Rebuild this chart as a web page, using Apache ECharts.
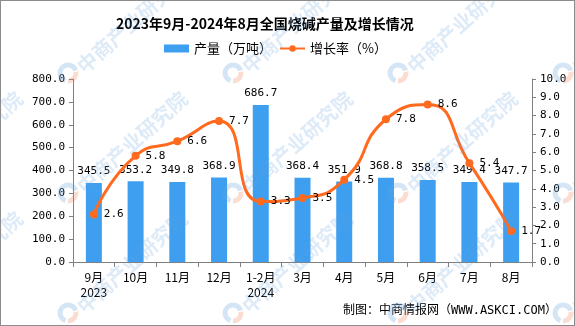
<!DOCTYPE html>
<html><head><meta charset="utf-8">
<script src="https://cdn.jsdelivr.net/npm/echarts@6/dist/echarts.min.js"></script>
<style>html,body{margin:0;padding:0;background:#fff}#c{width:575px;height:326px;box-sizing:border-box;border:1px solid #8c8c8c}</style>
</head><body><div id="c"></div>
<script>
const categories = ['9月\n2023','10月','11月','12月','1-2月\n2024','3月','4月','5月','6月','7月','8月'];
const production = [345.5,353.2,349.8,368.9,686.7,368.4,351.9,368.8,358.5,349.4,347.7];
const growth = [2.6,5.8,6.6,7.7,3.3,3.5,4.5,7.8,8.6,5.4,1.7];
const leftTicks = {min:0,max:800,interval:100};
const rightTicks = {min:0,max:10,interval:1};

const mono = 'DejaVu Sans Mono';
const cjk = 'Noto Sans CJK SC';

// decorative watermark
const wm = [];
const wmX = [-98,67,232,397,562], wmY = [72,192,312];
wmX.forEach(x => wmY.forEach(y => {
  wm.push({type:'arc',z:100,silent:true,shape:{cx:x,cy:y,r:8,startAngle:Math.PI*0.6,endAngle:Math.PI*1.9},
    style:{stroke:'rgba(100,160,220,0.28)',lineWidth:5,fill:null}});
  wm.push({type:'arc',z:100,silent:true,shape:{cx:x,cy:y,r:8,startAngle:Math.PI*1.95,endAngle:Math.PI*2.5},
    style:{stroke:'rgba(240,130,90,0.28)',lineWidth:5,fill:null}});
  wm.push({type:'text',z:100,silent:true,x:x+12,y:y-4,rotation:Math.PI/4.3,
    style:{text:'中商产业研究院',fontFamily:cjk,fontSize:20,fontWeight:'bold',fill:'rgba(100,160,220,0.22)',textAlign:'left',textVerticalAlign:'middle'}});
}));

const chart = echarts.init(document.getElementById('c'), null, {renderer:'canvas'});
chart.setOption({
  animation:false,
  backgroundColor:'#fff',
  title:{text:'2023年9月-2024年8月全国烧碱产量及增长情况',left:110,top:11,
    textStyle:{fontFamily:cjk,fontSize:14,fontWeight:'bold',color:'#000'}},
  legend:[
    {top:41,left:163,padding:0,itemWidth:25,itemHeight:8,
     textStyle:{fontFamily:cjk,fontSize:13,color:'#000'},
     data:[{name:'产量（万吨）',icon:'rect'}]},
    {top:41,left:278,padding:0,itemWidth:25,itemHeight:8,
     textStyle:{fontFamily:cjk,fontSize:13,color:'#000'},
     data:[{name:'增长率（%）'}]}
  ],
  grid:{left:72,right:42,top:78,bottom:63},
  xAxis:{type:'category',data:categories,
    axisLine:{lineStyle:{color:'#808080'}},
    axisTick:{show:true,length:5,lineStyle:{color:'#808080'}},
    axisLabel:{fontFamily:cjk,fontSize:12,color:'#000',lineHeight:15,margin:8,interval:0}},
  yAxis:[
    {type:'value',min:leftTicks.min,max:leftTicks.max,interval:leftTicks.interval,
     axisLine:{show:true,lineStyle:{color:'#808080'}},axisTick:{show:true,length:4,lineStyle:{color:'#808080'}},
     splitLine:{show:false},
     axisLabel:{fontFamily:mono,fontSize:11,color:'#000',formatter:v=>v.toFixed(1)}},
    {type:'value',min:rightTicks.min,max:rightTicks.max,interval:rightTicks.interval,
     axisLine:{show:true,lineStyle:{color:'#808080'}},axisTick:{show:true,length:4,lineStyle:{color:'#808080'}},
     splitLine:{show:false},
     axisLabel:{fontFamily:mono,fontSize:11,color:'#000',formatter:v=>v.toFixed(1)}}
  ],
  series:[
    {name:'产量（万吨）',type:'bar',data:production,barWidth:16,
     itemStyle:{color:'#3E9FF0'},
     label:{show:true,position:'top',distance:6,fontFamily:mono,fontSize:11,color:'#000',formatter:p=>p.value.toFixed(1)}},
    {name:'增长率（%）',type:'line',yAxisIndex:1,data:growth,smooth:0.55,
     symbol:'circle',symbolSize:8,
     lineStyle:{color:'#FF6A1F',width:3},itemStyle:{color:'#FF6A1F'},
     label:{show:true,position:'right',distance:6,fontFamily:mono,fontSize:11,color:'#000',formatter:p=>p.value.toFixed(1)}}
  ],
  graphic:[{type:'text',left:342,top:304,style:{text:'制图：中商情报网（WWW.ASKCI.COM）',fontFamily:"'DejaVu Sans Mono','Noto Sans CJK SC'",fontSize:12,fill:'#000'}}].concat(wm)
});
</script></body></html>
